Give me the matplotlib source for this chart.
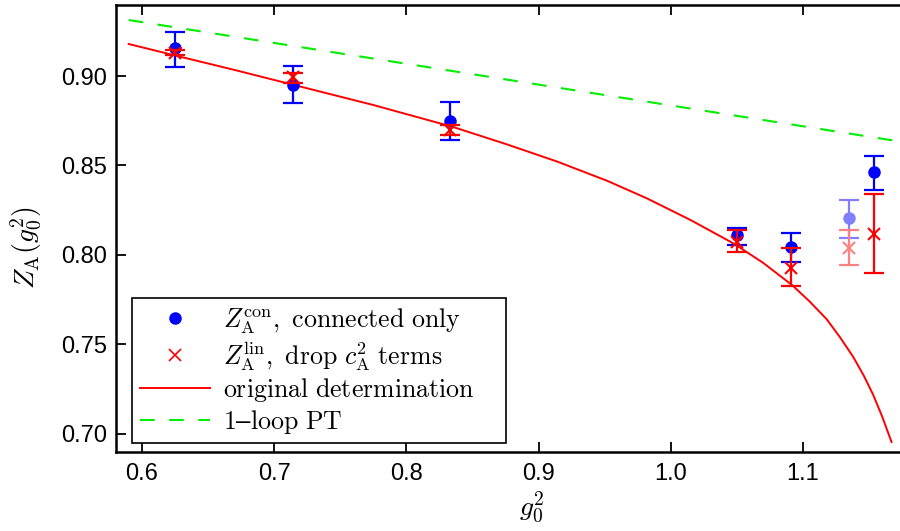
import matplotlib
matplotlib.use("Agg")
import matplotlib.pyplot as plt
from matplotlib.lines import Line2D
import numpy as np

plt.rcParams['mathtext.fontset'] = 'cm'
plt.rcParams['font.family'] = ['Liberation Sans', 'DejaVu Sans']

# connected-only data
g_con = [0.6252, 0.7142, 0.8332, 1.0501, 1.0909, 1.1539]
z_con = [0.9155, 0.8950, 0.8750, 0.8110, 0.8045, 0.8461]
z_con_hi = [0.9248, 0.9058, 0.8855, 0.8148, 0.8121, 0.8554]
z_con_lo = [0.9052, 0.8847, 0.8642, 0.8058, 0.7961, 0.8364]

# linear (drop c_A^2 terms) data
z_lin = [0.9130, 0.8996, 0.8698, 0.8073, 0.7927, 0.8116]
z_lin_hi = [0.9148, 0.9019, 0.8724, 0.8138, 0.8036, 0.8340]
z_lin_lo = [0.9118, 0.8959, 0.8670, 0.8017, 0.7827, 0.7899]

# faded point
g_faded = [1.1345]
z_con_faded = [0.8204]
z_con_faded_hi = [0.8308]
z_con_faded_lo = [0.8095]
z_lin_faded = [0.8041]
z_lin_faded_hi = [0.8142]
z_lin_faded_lo = [0.7944]

g_orig = [0.590, 0.625, 0.670, 0.715, 0.775, 0.835, 0.876, 0.914, 0.952, 0.982,
          1.015, 1.048, 1.070, 1.092, 1.105, 1.118, 1.128, 1.138, 1.146, 1.153,
          1.160, 1.167]
z_orig = [0.9179, 0.9115, 0.9034, 0.8950, 0.8838, 0.8716, 0.8618, 0.8522, 0.8414, 0.8316,
          0.8195, 0.8062, 0.7955, 0.7830, 0.7740, 0.7640, 0.7540, 0.7430, 0.7325, 0.7220,
          0.7095, 0.6954]

# 1-loop PT line
g_pt = [0.590, 1.180]
z_pt = [0.9313, 0.8626]

xticks = [0.6, 0.7, 0.8, 0.9, 1.0, 1.1]
yticks = [0.70, 0.75, 0.80, 0.85, 0.90]

BLUE = '#0000ff'
RED = '#ff0000'
GREEN = '#00ee00'
LBLUE = '#8080ff'
LRED = '#ff8080'

fig = plt.figure(figsize=(9, 5.31), dpi=100)
ax = fig.add_axes([115.5/900, 1-451.7/531, 1-115.5/900, (451.7-5)/531])

ax.plot(g_pt, z_pt, color=GREEN, lw=1.5, dashes=(7, 7))
ax.plot(g_orig, z_orig, color=RED, lw=1.4)

def eb(x, y, hi, lo, color, marker, ms):
    y = np.array(y); hi = np.array(hi); lo = np.array(lo)
    ax.errorbar(x, y, yerr=[y-lo, hi-y], fmt='none', ecolor=color, elinewidth=1.6,
                capsize=7.2, capthick=1.6)
    if marker == 'o':
        ax.plot(x, y, 'o', color=color, ms=ms, mec=color)
    else:
        ax.plot(x, y, 'x', color=color, ms=ms, mew=1.5)

eb(g_faded, z_con_faded, z_con_faded_hi, z_con_faded_lo, LBLUE, 'o', 8)
eb(g_faded, z_lin_faded, z_lin_faded_hi, z_lin_faded_lo, LRED, 'x', 8)
eb(g_con, z_con, z_con_hi, z_con_lo, BLUE, 'o', 8)
eb(g_con, z_lin, z_lin_hi, z_lin_lo, RED, 'x', 8)

ax.set_xlim(0.58, 1.1734)
ax.set_ylim(0.69, 0.9397)
ax.set_xticks(xticks)
ax.set_xticklabels(['%.1f' % t for t in xticks])
ax.set_yticks(yticks)
ax.set_yticklabels(['%.2f' % t for t in yticks])
ax.tick_params(direction='in', length=7, width=1.3, labelsize=17, top=True, right=False,
               pad=8)
ax.tick_params(axis='y', pad=6)
for s in ['left', 'bottom', 'top']:
    ax.spines[s].set_linewidth(1.8)
ax.spines['right'].set_visible(False)

ax.set_xlabel(r'$g_0^2$', fontsize=20, labelpad=4)
ax.xaxis.set_label_coords(0.531, -0.085)
ax.set_ylabel(r'$Z_{\rm A}(g_0^2)$', fontsize=20)
ax.yaxis.set_label_coords(-0.0911, 0.456)

handles = [
    Line2D([], [], ls='none', marker='o', color=BLUE, ms=8),
    Line2D([], [], ls='none', marker='x', color=RED, ms=9, mew=1.2),
    Line2D([], [], color=RED, lw=1.4),
    Line2D([], [], color=GREEN, lw=1.5, dashes=(7, 7)),
]
labels = [
    r'$Z_{\rm A}^{\rm con}{\rm ,\ connected\ only}$',
    r'$Z_{\rm A}^{\rm lin}{\rm ,\ drop\ }c_{\rm A}^2{\rm\ terms}$',
    r'${\rm original\ determination}$',
    r'${\rm 1}$–${\rm loop\ PT}$',
]
x0 = (132.3-115.5)/784.5
w = (506-132.3)/784.5
y0 = (451.7-443.3)/446.7
leg = ax.legend(handles, labels, loc='lower left', bbox_to_anchor=(x0, y0, w, 0.2),
                mode='expand', borderaxespad=0, fontsize=18.6, frameon=True, fancybox=False,
                edgecolor='black', framealpha=1, handlelength=2.7, handletextpad=0.5,
                labelspacing=0.13, borderpad=0.3)
leg.get_frame().set_linewidth(1.2)

fig.savefig('out.png', dpi=100)
